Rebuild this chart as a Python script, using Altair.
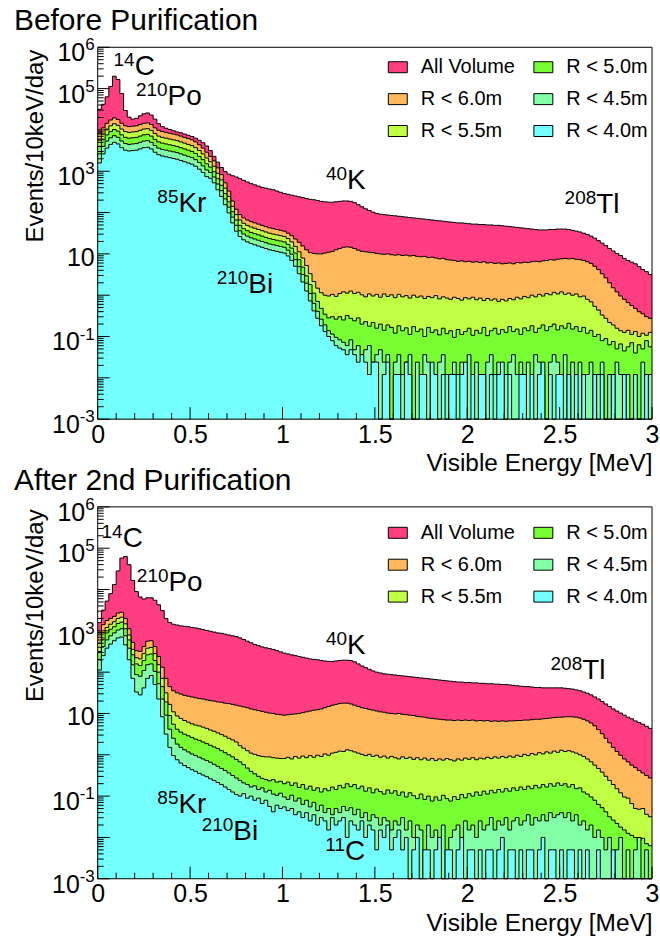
import altair as alt
import pandas as pd

# Spectra are stored per 20 keV bin (0-3 MeV) as log10(events / 10 keV / day).
# None marks an empty bin, which is drawn on the floor of the log axis.
BIN_WIDTH = 0.02
N_BINS = 150
FLOOR = 1e-3

SERIES = ["All Volume", "R < 6.0m", "R < 5.5m", "R < 5.0m", "R < 4.5m", "R < 4.0m"]
FILL = {
    "All Volume": "#ff3d80",
    "R < 6.0m": "#ffb85c",
    "R < 5.5m": "#bfff44",
    "R < 5.0m": "#77ff33",
    "R < 4.5m": "#83ffa8",
    "R < 4.0m": "#74ffff",
}

before_all = [
    4.50, 4.62, 4.80, 5.05, 5.30, 5.22, 4.88, 4.47, 4.31, 4.26,
    4.28, 4.34, 4.39, 4.41, 4.36, 4.26, 4.15, 4.08, 4.04, 4.01,
    3.98, 3.95, 3.93, 3.90, 3.87, 3.84, 3.80, 3.75, 3.69, 3.61,
    3.50, 3.36, 3.22, 3.09, 2.99, 2.93, 2.89, 2.86, 2.82, 2.78,
    2.74, 2.70, 2.67, 2.64, 2.61, 2.59, 2.57, 2.55, 2.52, 2.49,
    2.46, 2.44, 2.42, 2.40, 2.38, 2.36, 2.34, 2.32, 2.31, 2.29,
    2.27, 2.26, 2.25, 2.25, 2.26, 2.27, 2.28, 2.28, 2.27, 2.24,
    2.19, 2.14, 2.09, 2.05, 2.01, 1.98, 1.96, 1.95, 1.94, 1.93,
    1.92, 1.91, 1.90, 1.89, 1.88, 1.87, 1.86, 1.85, 1.84, 1.83,
    1.82, 1.81, 1.80, 1.79, 1.78, 1.77, 1.76, 1.75, 1.75, 1.74,
    1.73, 1.72, 1.72, 1.71, 1.71, 1.70, 1.70, 1.69, 1.69, 1.68,
    1.67, 1.66, 1.65, 1.64, 1.63, 1.62, 1.61, 1.60, 1.59, 1.58,
    1.58, 1.58, 1.59, 1.59, 1.60, 1.60, 1.60, 1.59, 1.57, 1.55,
    1.53, 1.50, 1.47, 1.43, 1.38, 1.32, 1.26, 1.20, 1.13, 1.07,
    1.01, 0.96, 0.89, 0.84, 0.80, 0.76, 0.69, 0.62, 0.57, 0.50,
]
before_r60 = [
    3.92, 4.05, 4.16, 4.24, 4.29, 4.25, 4.16, 4.10, 4.08, 4.09,
    4.10, 4.13, 4.16, 4.17, 4.13, 4.05, 3.99, 3.96, 3.94, 3.92,
    3.90, 3.88, 3.85, 3.82, 3.79, 3.76, 3.71, 3.64, 3.56, 3.46,
    3.36, 3.25, 3.08, 2.92, 2.72, 2.52, 2.28, 2.08, 1.95, 1.87,
    1.82, 1.78, 1.75, 1.72, 1.69, 1.66, 1.63, 1.61, 1.59, 1.57,
    1.55, 1.50, 1.44, 1.36, 1.28, 1.19, 1.10, 1.03, 1.01, 1.00,
    1.00, 1.02, 1.04, 1.06, 1.10, 1.13, 1.16, 1.17, 1.16, 1.13,
    1.09, 1.06, 1.05, 1.04, 1.03, 1.01, 1.00, 0.99, 1.00, 0.98,
    0.97, 0.98, 0.96, 0.97, 0.95, 0.96, 0.94, 0.93, 0.94, 0.91,
    0.92, 0.90, 0.88, 0.89, 0.86, 0.85, 0.84, 0.82, 0.83, 0.81,
    0.82, 0.80, 0.81, 0.79, 0.81, 0.78, 0.79, 0.77, 0.78, 0.76,
    0.77, 0.78, 0.76, 0.79, 0.78, 0.80, 0.79, 0.81, 0.82, 0.81,
    0.83, 0.84, 0.86, 0.85, 0.87, 0.88, 0.89, 0.88, 0.89, 0.87,
    0.86, 0.84, 0.81, 0.77, 0.70, 0.62, 0.52, 0.42, 0.30, 0.18,
    0.08, -0.02, -0.10, -0.18, -0.25, -0.32, -0.40, -0.45, -0.52, -0.56,
]
before_r55 = [
    3.75, 3.90, 4.02, 4.10, 4.15, 4.11, 4.02, 3.96, 3.94, 3.95,
    3.96, 3.99, 4.02, 4.03, 3.99, 3.91, 3.85, 3.82, 3.80, 3.78,
    3.76, 3.74, 3.71, 3.68, 3.65, 3.62, 3.57, 3.50, 3.42, 3.32,
    3.23, 3.12, 2.95, 2.79, 2.59, 2.39, 2.15, 1.95, 1.82, 1.74,
    1.69, 1.65, 1.62, 1.59, 1.56, 1.53, 1.50, 1.48, 1.46, 1.44,
    1.42, 1.37, 1.29, 1.18, 1.05, 0.90, 0.72, 0.52, 0.33, 0.17,
    0.06, 0.00, -0.02, 0.02, -0.03, 0.04, 0.08, 0.05, 0.10, 0.04,
    0.07, 0.01, -0.04, 0.03, -0.02, 0.02, -0.05, 0.03, -0.03, 0.01,
    -0.06, 0.02, -0.04, -0.01, -0.07, 0.00, -0.05, -0.02, -0.08, -0.03,
    -0.06, -0.01, -0.09, -0.04, -0.07, -0.10, -0.05, -0.08, -0.12, -0.06,
    -0.09, -0.05, -0.11, -0.07, -0.13, -0.08, -0.12, -0.09, -0.15, -0.10,
    -0.14, -0.08, -0.11, -0.05, -0.09, -0.03, -0.06, 0.00, -0.04, 0.02,
    -0.02, 0.04, 0.01, 0.07, 0.03, 0.08, 0.02, 0.05, 0.00, 0.03,
    -0.04, -0.02, -0.10, -0.16, -0.27, -0.36, -0.48, -0.56, -0.66, -0.72,
    -0.80, -0.86, -0.90, -0.85, -0.95, -0.88, -1.00, -0.92, -0.97, -0.90,
]
before_r50 = [
    3.60, 3.76, 3.88, 3.96, 4.01, 3.97, 3.88, 3.82, 3.80, 3.81,
    3.82, 3.85, 3.88, 3.89, 3.85, 3.77, 3.71, 3.68, 3.66, 3.64,
    3.62, 3.60, 3.57, 3.54, 3.51, 3.48, 3.43, 3.36, 3.28, 3.18,
    3.10, 2.99, 2.82, 2.66, 2.46, 2.26, 2.02, 1.82, 1.69, 1.61,
    1.56, 1.52, 1.49, 1.46, 1.43, 1.40, 1.37, 1.35, 1.33, 1.31,
    1.29, 1.23, 1.14, 1.02, 0.86, 0.68, 0.47, 0.26, 0.05, -0.15,
    -0.32, -0.46, -0.55, -0.52, -0.58, -0.52, -0.60, -0.49, -0.56, -0.62,
    -0.55, -0.70, -0.64, -0.75, -0.66, -0.80, -0.70, -0.85, -0.72, -0.78,
    -0.92, -0.74, -0.86, -0.79, -0.95, -0.76, -0.88, -0.82, -1.00, -0.78,
    -0.90, -0.84, -0.96, -0.80, -0.93, -0.86, -1.02, -0.83, -0.95, -0.88,
    -0.80, -0.97, -0.85, -0.92, -0.78, -0.98, -0.86, -0.80, -0.94, -0.83,
    -0.90, -0.76, -0.88, -0.82, -0.95, -0.79, -0.86, -0.74, -0.90, -0.80,
    -0.72, -0.86, -0.76, -0.70, -0.84, -0.74, -0.80, -0.68, -0.82, -0.76,
    -0.88, -0.78, -0.92, -0.85, -1.00, -0.95, -1.10, -1.05, -1.20, -1.12,
    -1.30, -1.18, -1.35, -1.25, -1.15, -1.40, -1.20, -1.30, -1.10, -1.25,
]
before_r45 = [
    3.42, 3.60, 3.73, 3.81, 3.86, 3.82, 3.73, 3.67, 3.65, 3.66,
    3.67, 3.70, 3.73, 3.74, 3.70, 3.62, 3.56, 3.53, 3.51, 3.49,
    3.47, 3.45, 3.42, 3.39, 3.36, 3.33, 3.28, 3.21, 3.13, 3.03,
    2.97, 2.86, 2.69, 2.53, 2.33, 2.13, 1.89, 1.69, 1.56, 1.48,
    1.43, 1.39, 1.36, 1.33, 1.30, 1.27, 1.24, 1.22, 1.20, 1.18,
    1.16, 1.09, 0.99, 0.86, 0.69, 0.50, 0.29, 0.04, -0.20, -0.39,
    -0.58, -0.72, -0.86, -0.94, -1.02, -1.08, -1.14, -1.22, -1.08, -1.32,
    -1.22, -1.44, -1.32, -1.22, -1.62, -1.44, -1.32, -1.62, -1.44, None,
    -1.62, -1.44, -1.92, -1.62, -1.44, None, -1.62, -1.92, -1.44, -1.62,
    None, -1.92, -1.62, -1.44, -1.92, None, -1.62, -1.92, -1.62, None,
    -1.44, -1.92, -1.62, -1.92, None, -1.62, -1.44, -1.92, -1.62, None,
    -1.92, -1.62, -1.44, -1.92, -1.62, None, -1.62, -1.92, -1.44, -1.62,
    -1.92, None, -1.62, -1.44, -1.62, -1.92, -1.44, None, -1.62, -1.92,
    -1.62, None, -1.92, -1.62, None, -1.92, -1.62, None, -1.92, None,
    -1.62, -1.92, None, -1.92, None, -1.92, None, -1.62, None, -1.92,
]
before_r40 = [
    3.20, 3.42, 3.56, 3.65, 3.70, 3.66, 3.57, 3.51, 3.49, 3.50,
    3.51, 3.54, 3.57, 3.58, 3.54, 3.46, 3.40, 3.37, 3.35, 3.33,
    3.31, 3.29, 3.26, 3.23, 3.20, 3.17, 3.12, 3.05, 2.97, 2.87,
    2.83, 2.72, 2.55, 2.39, 2.19, 1.99, 1.75, 1.55, 1.42, 1.34,
    1.29, 1.25, 1.22, 1.19, 1.16, 1.13, 1.10, 1.08, 1.06, 1.04,
    1.02, 0.95, 0.84, 0.70, 0.52, 0.32, 0.10, -0.14, -0.38, -0.56,
    -0.74, -0.88, -1.00, -1.10, -1.22, -1.28, -1.32, -1.44, -1.32, -1.44,
    -1.62, -1.44, -1.62, -1.92, -1.62, -1.62, None, -1.92, -1.62, None,
    -1.92, -1.92, None, -1.62, -1.92, None, None, -1.92, -1.92, None,
    -1.62, -1.92, None, -1.92, None, -1.92, -1.92, None, -1.92, -1.62,
    None, -1.92, None, -1.92, -1.92, None, -1.92, None, -1.92, -1.62,
    None, -1.92, None, None, -1.92, -1.92, None, -1.92, None, -1.92,
    -1.62, None, -1.92, None, -1.92, -1.92, None, -1.92, None, -1.92,
    None, -1.92, None, None, -1.92, None, -1.92, None, None, -1.92,
    None, None, -1.92, None, None, -1.92, None, None, -1.92, None,
]

after_all = [
    3.20, 3.50, 3.72, 3.90, 4.12, 4.45, 4.76, 4.80, 4.60, 4.22,
    3.95, 3.82, 3.77, 3.80, 3.80, 3.74, 3.63, 3.49, 3.30, 3.20,
    3.16, 3.14, 3.12, 3.11, 3.10, 3.08, 3.07, 3.05, 3.03, 3.01,
    2.99, 2.97, 2.95, 2.94, 2.92, 2.90, 2.88, 2.86, 2.83, 2.79,
    2.75, 2.71, 2.67, 2.64, 2.61, 2.59, 2.57, 2.55, 2.52, 2.49,
    2.46, 2.44, 2.42, 2.40, 2.38, 2.36, 2.34, 2.32, 2.31, 2.30,
    2.28, 2.27, 2.26, 2.26, 2.27, 2.28, 2.29, 2.29, 2.28, 2.25,
    2.20, 2.15, 2.11, 2.07, 2.03, 2.00, 1.98, 1.96, 1.95, 1.94,
    1.93, 1.92, 1.91, 1.90, 1.89, 1.88, 1.87, 1.86, 1.85, 1.84,
    1.83, 1.82, 1.81, 1.80, 1.79, 1.78, 1.77, 1.76, 1.76, 1.75,
    1.75, 1.74, 1.74, 1.73, 1.73, 1.72, 1.72, 1.71, 1.71, 1.70,
    1.70, 1.69, 1.68, 1.67, 1.66, 1.65, 1.65, 1.64, 1.63, 1.63,
    1.62, 1.62, 1.62, 1.62, 1.62, 1.62, 1.61, 1.60, 1.59, 1.57,
    1.55, 1.52, 1.49, 1.45, 1.40, 1.35, 1.29, 1.23, 1.17, 1.11,
    1.06, 1.01, 0.96, 0.91, 0.87, 0.82, 0.78, 0.74, 0.69, 0.64,
]
after_r60 = [
    2.95, 3.15, 3.25, 3.30, 3.35, 3.43, 3.45, 3.30, 3.05, 2.72,
    2.52, 2.50, 2.62, 2.75, 2.76, 2.62, 2.38, 2.12, 1.85, 1.65,
    1.55, 1.50, 1.47, 1.44, 1.42, 1.40, 1.38, 1.36, 1.35, 1.33,
    1.31, 1.30, 1.28, 1.27, 1.25, 1.24, 1.22, 1.20, 1.18, 1.16,
    1.14, 1.11, 1.09, 1.07, 1.05, 1.03, 1.01, 1.00, 0.98, 0.97,
    0.96, 0.97, 0.98, 0.99, 1.00, 1.02, 1.04, 1.06, 1.08, 1.09,
    1.11, 1.14, 1.17, 1.20, 1.22, 1.24, 1.25, 1.25, 1.23, 1.20,
    1.17, 1.14, 1.12, 1.10, 1.08, 1.06, 1.04, 1.03, 1.01, 1.00,
    0.99, 1.00, 0.98, 0.97, 0.96, 0.95, 0.93, 0.92, 0.91, 0.89,
    0.88, 0.87, 0.86, 0.85, 0.84, 0.84, 0.83, 0.84, 0.83, 0.84,
    0.83, 0.84, 0.82, 0.83, 0.82, 0.83, 0.81, 0.82, 0.81, 0.82,
    0.81, 0.82, 0.82, 0.83, 0.83, 0.84, 0.84, 0.85, 0.86, 0.86,
    0.87, 0.88, 0.89, 0.90, 0.91, 0.91, 0.92, 0.92, 0.92, 0.91,
    0.89, 0.86, 0.82, 0.77, 0.70, 0.61, 0.51, 0.40, 0.29, 0.18,
    0.08, -0.01, -0.10, -0.17, -0.25, -0.31, -0.38, -0.44, -0.50, -0.56,
]
after_r55 = [
    2.70, 2.95, 3.08, 3.16, 3.22, 3.30, 3.33, 3.17, 2.90, 2.55,
    2.35, 2.32, 2.45, 2.58, 2.60, 2.45, 2.18, 1.85, 1.50, 1.22,
    1.04, 0.94, 0.88, 0.83, 0.79, 0.75, 0.72, 0.70, 0.67, 0.64,
    0.60, 0.57, 0.53, 0.49, 0.45, 0.40, 0.36, 0.31, 0.22, 0.16,
    0.10, 0.04, 0.01, -0.02, -0.04, -0.05, -0.05, -0.07, -0.08, -0.09,
    -0.09, -0.06, -0.10, -0.04, -0.08, -0.03, -0.07, -0.02, -0.06, -0.01,
    -0.04, 0.02, -0.01, 0.04, 0.06, 0.09, 0.08, 0.12, 0.10, 0.07,
    0.04, 0.01, -0.02, 0.01, -0.04, -0.01, -0.06, -0.03, -0.08, -0.04,
    -0.07, -0.10, -0.05, -0.09, -0.06, -0.11, -0.07, -0.12, -0.08, -0.13,
    -0.09, -0.14, -0.10, -0.13, -0.09, -0.12, -0.15, -0.10, -0.13, -0.08,
    -0.11, -0.07, -0.12, -0.08, -0.10, -0.06, -0.09, -0.05, -0.08, -0.04,
    -0.07, -0.03, -0.06, -0.01, -0.04, 0.01, -0.02, 0.03, 0.00, 0.05,
    0.02, 0.07, 0.04, 0.09, 0.06, 0.11, 0.08, 0.10, 0.07, 0.04,
    0.00, -0.04, -0.10, -0.17, -0.25, -0.33, -0.42, -0.52, -0.62, -0.72,
    -0.82, -0.92, -1.02, -1.05, -1.18, -1.30, -1.32, -1.30, -1.44, -1.50,
]
after_r50 = [
    2.50, 2.80, 2.95, 3.04, 3.10, 3.18, 3.21, 3.05, 2.78, 2.42,
    2.20, 2.16, 2.28, 2.42, 2.44, 2.28, 2.00, 1.65, 1.28, 0.95,
    0.74, 0.62, 0.55, 0.50, 0.46, 0.42, 0.38, 0.35, 0.31, 0.27,
    0.23, 0.19, 0.15, 0.10, 0.05, 0.00, -0.05, -0.11, -0.17, -0.24,
    -0.32, -0.40, -0.46, -0.52, -0.57, -0.60, -0.63, -0.60, -0.66, -0.64,
    -0.70, -0.66, -0.74, -0.68, -0.79, -0.72, -0.83, -0.76, -0.86, -0.80,
    -0.90, -0.82, -0.87, -0.78, -0.84, -0.74, -0.80, -0.70, -0.77, -0.72,
    -0.82, -0.76, -0.88, -0.80, -0.92, -0.83, -0.89, -0.95, -0.85, -0.93,
    -0.87, -0.98, -0.90, -1.02, -0.92, -0.99, -1.06, -0.95, -1.08, -1.00,
    -1.12, -1.02, -1.10, -0.98, -1.06, -1.12, -1.01, -1.08, -0.96, -1.04,
    -0.94, -1.00, -0.90, -0.98, -0.88, -0.95, -0.86, -0.92, -0.84, -0.90,
    -0.82, -0.88, -0.80, -0.86, -0.78, -0.84, -0.76, -0.82, -0.74, -0.80,
    -0.72, -0.78, -0.70, -0.76, -0.68, -0.74, -0.70, -0.78, -0.72, -0.82,
    -0.80, -0.90, -0.95, -1.02, -1.10, -1.20, -1.28, -1.38, -1.50, -1.58,
    -1.66, -1.75, -1.82, -1.90, -1.95, -2.00, -2.08, -2.02, -2.15, -2.20,
]
after_r45 = [
    2.30, 2.62, 2.78, 2.88, 2.95, 3.02, 3.05, 2.88, 2.58, 2.18,
    1.94, 1.90, 2.04, 2.18, 2.20, 2.02, 1.72, 1.35, 0.96, 0.62,
    0.40, 0.26, 0.18, 0.12, 0.07, 0.02, -0.02, -0.06, -0.10, -0.14,
    -0.18, -0.23, -0.28, -0.33, -0.38, -0.44, -0.50, -0.56, -0.62, -0.68,
    -0.72, -0.78, -0.75, -0.84, -0.80, -0.90, -0.86, -0.95, -0.98, -0.93,
    -1.02, -1.08, -0.98, -1.12, -1.05, -1.20, -1.10, -1.26, -1.15, -1.35,
    -1.22, -1.40, -1.30, -1.45, -1.30, -1.40, -1.25, -1.35, -1.28, -1.45,
    -1.32, -1.52, -1.40, -1.60, -1.45, -1.52, -1.70, -1.52, -1.60, -1.82,
    -1.60, -1.70, -1.52, -1.82, -1.60, -2.00, -1.70, -1.82, None, -1.70,
    -2.00, -1.82, -2.30, -1.70, None, -2.00, -1.82, -1.70, -2.00, -1.60,
    -1.82, -1.70, -2.00, -1.60, -1.82, -1.70, -1.52, -1.82, -1.60, -1.70,
    -1.52, -1.82, -1.60, -1.52, -1.70, -1.60, -1.45, -1.70, -1.52, -1.60,
    -1.45, -1.60, -1.40, -1.52, -1.45, -1.40, -1.52, -1.40, -1.60, -1.45,
    -1.70, -1.60, -1.82, -1.70, -2.00, -1.82, -2.00, -2.30, -2.00, None,
    -2.30, -2.00, None, -2.30, None, -2.30, -2.00, None, -2.30, None,
]
after_r40 = [
    2.05, 2.40, 2.58, 2.68, 2.76, 2.83, 2.85, 2.66, 2.30, 1.85,
    1.52, 1.45, 1.62, 1.85, 1.92, 1.70, 1.35, 0.92, 0.50, 0.18,
    -0.02, -0.12, -0.20, -0.26, -0.31, -0.36, -0.40, -0.45, -0.49, -0.53,
    -0.58, -0.62, -0.67, -0.72, -0.78, -0.84, -0.90, -0.96, -1.00, -0.94,
    -1.05, -1.00, -1.10, -1.05, -1.18, -1.10, -1.25, -1.38, -1.22, -1.30,
    -1.26, -1.35, -1.30, -1.45, -1.38, -1.52, -1.40, -1.60, -1.45, -1.70,
    -1.52, -1.60, -1.82, -1.52, -1.70, -1.60, -1.52, -2.00, -1.60, -1.70,
    -1.82, -1.60, -2.00, -1.70, -1.82, -2.30, -1.82, -2.00, -1.70, -2.30,
    -2.00, -1.82, -2.30, -2.00, None, -2.30, -2.00, None, -2.30, -2.30,
    None, -2.30, -2.00, None, -2.30, -2.30, None, -2.30, -2.00, None,
    -2.30, -2.30, None, -2.30, None, -2.30, -2.30, None, -2.30, -2.00,
    None, -2.30, -2.30, None, -2.30, None, -2.30, -2.30, None, -2.30,
    -2.00, None, -2.30, -2.30, None, -2.30, None, -2.30, -2.30, None,
    -2.30, None, -2.30, None, None, -2.30, None, None, None, -2.30,
    None, None, None, None, None, None, None, None, None, None,
]

# isotope labels: (mass number, element, energy [MeV], log10 height of baseline)
before_notes = [
    ("14", "C", 0.200, 5.32), ("210", "Po", 0.378, 4.61), ("85", "Kr", 0.437, 2.02),
    ("210", "Bi", 0.815, 0.06), ("40", "K", 1.349, 2.58), ("208", "Tl", 2.698, 2.00),
]
after_notes = [
    ("14", "C", 0.135, 5.02), ("210", "Po", 0.383, 3.97), ("40", "K", 1.349, 2.43),
    ("208", "Tl", 2.622, 1.84), ("85", "Kr", 0.437, -1.41), ("210", "Bi", 0.734, -2.06),
    ("11", "C", 1.338, -2.54),
]

X_TICKS_MAJOR = [0, 0.5, 1, 1.5, 2, 2.5, 3]
LABELLED_DECADES = [6, 5, 3, 1, -1, -3]

W, H = 556, 373
X_SCALE = alt.Scale(domain=[0, 3], nice=False, zero=False)
Y_SCALE = alt.Scale(type="log", domain=[FLOOR, 1e6], nice=False)

X_AXIS = alt.Axis(
    values=X_TICKS_MAJOR, format=".1~f", ticks=False, tickSize=0, domain=False, grid=False,
    labelFontSize=25, labelColor="black", labelBaseline="alphabetic", labelPadding=23,
    labelFlush=False, labelOverlap=False,
    title="Visible Energy [MeV]", titleFontSize=24.5, titleFontWeight="normal",
    titleColor="black", titleAlign="right", titleBaseline="alphabetic", titleX=W, titleY=52,
)
Y_AXIS = alt.Axis(
    labels=False, ticks=False, domain=False, grid=False,
    title="Events/10keV/day", titleFontSize=24, titleFontWeight="normal", titleColor="black",
    titleAngle=270, titleAlign="right", titleBaseline="alphabetic", titleX=-55, titleY=2,
)


def spectra_frame(spectra):
    rows = []
    for name, logs in spectra.items():
        rates = [FLOOR if v is None else 10.0 ** v for v in logs]
        for i, r in enumerate(rates):
            rows.append({"series": name, "E": round(i * BIN_WIDTH, 2), "rate": r})
        rows.append({"series": name, "E": round(len(rates) * BIN_WIDTH, 2), "rate": rates[-1]})
    return pd.DataFrame(rows)


def legend(y):
    # entries fill the two columns top to bottom
    return alt.Legend(
        orient="none", legendX=291, legendY=y, columns=2, title=None,
        symbolType="M-1,-0.58H1V0.58H-1Z", symbolSize=361, symbolStrokeColor="black",
        symbolStrokeWidth=1, symbolOpacity=1, labelFontSize=20, labelColor="black",
        labelOffset=13, columnPadding=16, rowPadding=12, padding=0, labelLimit=300,
    )


def panel(title, spectra, notes, legend_y):
    data = spectra_frame(spectra)
    colour = alt.Color(
        "series:N",
        scale=alt.Scale(domain=SERIES, range=[FILL[s] for s in SERIES]),
        legend=legend(legend_y),
    )
    layers = []
    # histograms: widest selection first, each filled then outlined
    for name in SERIES:
        one = alt.Chart(data).transform_filter(alt.datum.series == name)
        layers.append(
            one.mark_area(interpolate="step-after").encode(
                x=alt.X("E:Q", scale=X_SCALE, axis=X_AXIS),
                y=alt.Y("rate:Q", scale=Y_SCALE, axis=Y_AXIS),
                y2=alt.datum(FLOOR),
                color=colour,
            )
        )
        layers.append(
            one.mark_line(interpolate="step-after", color="black", strokeWidth=1).encode(
                x="E:Q", y="rate:Q"
            )
        )

    # inward ticks
    x_major = pd.DataFrame({"E": X_TICKS_MAJOR})
    x_minor = pd.DataFrame({"E": [k / 10 for k in range(31) if k % 5]})
    y_major = pd.DataFrame({"rate": [10.0 ** k for k in range(-3, 7)]})
    y_minor = pd.DataFrame({"rate": [m * 10.0 ** k for k in range(-3, 6) for m in range(2, 10)]})
    layers += [
        alt.Chart(x_major).mark_rule(color="black").encode(
            x="E:Q", y=alt.value(H), y2=alt.value(H - 12)),
        alt.Chart(x_minor).mark_rule(color="black").encode(
            x="E:Q", y=alt.value(H), y2=alt.value(H - 6)),
        alt.Chart(y_major).mark_rule(color="black").encode(
            y="rate:Q", x=alt.value(0), x2=alt.value(12)),
        alt.Chart(y_minor).mark_rule(color="black").encode(
            y="rate:Q", x=alt.value(0), x2=alt.value(6)),
    ]

    # power-of-ten tick labels: "10" with a raised exponent
    ylab = pd.DataFrame({
        "rate": [10.0 ** e for e in LABELLED_DECADES],
        "base": ["10"] * len(LABELLED_DECADES),
        "exp": ["" if e == 1 else str(e) for e in LABELLED_DECADES],
    })
    layers.append(
        alt.Chart(ylab).mark_text(align="right", baseline="alphabetic", fontSize=17,
                                  dx=-3, dy=3, color="black")
        .encode(y="rate:Q", x=alt.value(0), text="exp:N")
    )
    for n, dx, dy in [(0, -3, 12), (1, -12.5, 14), (2, -18, 14)]:
        layers.append(
            alt.Chart(ylab).transform_filter(f"length(datum.exp) == {n}")
            .mark_text(align="right", baseline="alphabetic", fontSize=25, dx=dx, dy=dy,
                       color="black")
            .encode(y="rate:Q", x=alt.value(0), text="base:N")
        )

    # isotope annotations
    nd = pd.DataFrame(notes, columns=["mass", "elem", "E", "h"])
    nd["rate"] = 10.0 ** nd["h"]
    layers += [
        alt.Chart(nd).mark_text(align="right", baseline="alphabetic", fontSize=19, dy=-9,
                                color="black")
        .encode(x="E:Q", y="rate:Q", text="mass:N"),
        alt.Chart(nd).mark_text(align="left", baseline="alphabetic", fontSize=28,
                                color="black")
        .encode(x="E:Q", y="rate:Q", text="elem:N"),
    ]

    # panel heading and frame
    layers.append(
        alt.Chart(pd.DataFrame({"t": [title]}))
        .mark_text(align="left", baseline="alphabetic", fontSize=30, color="black")
        .encode(text="t:N", x=alt.value(-84), y=alt.value(-17))
    )
    layers.append(
        alt.Chart(pd.DataFrame({"f": [0]}))
        .mark_rect(fill="white", fillOpacity=0, stroke="black", strokeWidth=1)
        .encode(x=alt.value(0), x2=alt.value(W), y=alt.value(0), y2=alt.value(H))
    )
    return alt.layer(*layers).properties(width=W, height=H)


before = panel(
    "Before Purification",
    dict(zip(SERIES, [before_all, before_r60, before_r55, before_r50, before_r45, before_r40])),
    before_notes, 10,
)
after = panel(
    "After 2nd Purification",
    dict(zip(SERIES, [after_all, after_r60, after_r55, after_r50, after_r45, after_r40])),
    after_notes, 16,
)

chart = (
    alt.vconcat(before, after, spacing=88, bounds="flush")
    .resolve_scale(color="independent")
    .properties(padding={"left": 13, "top": 4, "right": 0, "bottom": 0})
    .configure(font="Liberation Sans")
    .configure_view(stroke="transparent")
)

chart.save("out.html", embed_options={"renderer": "svg", "actions": False})
